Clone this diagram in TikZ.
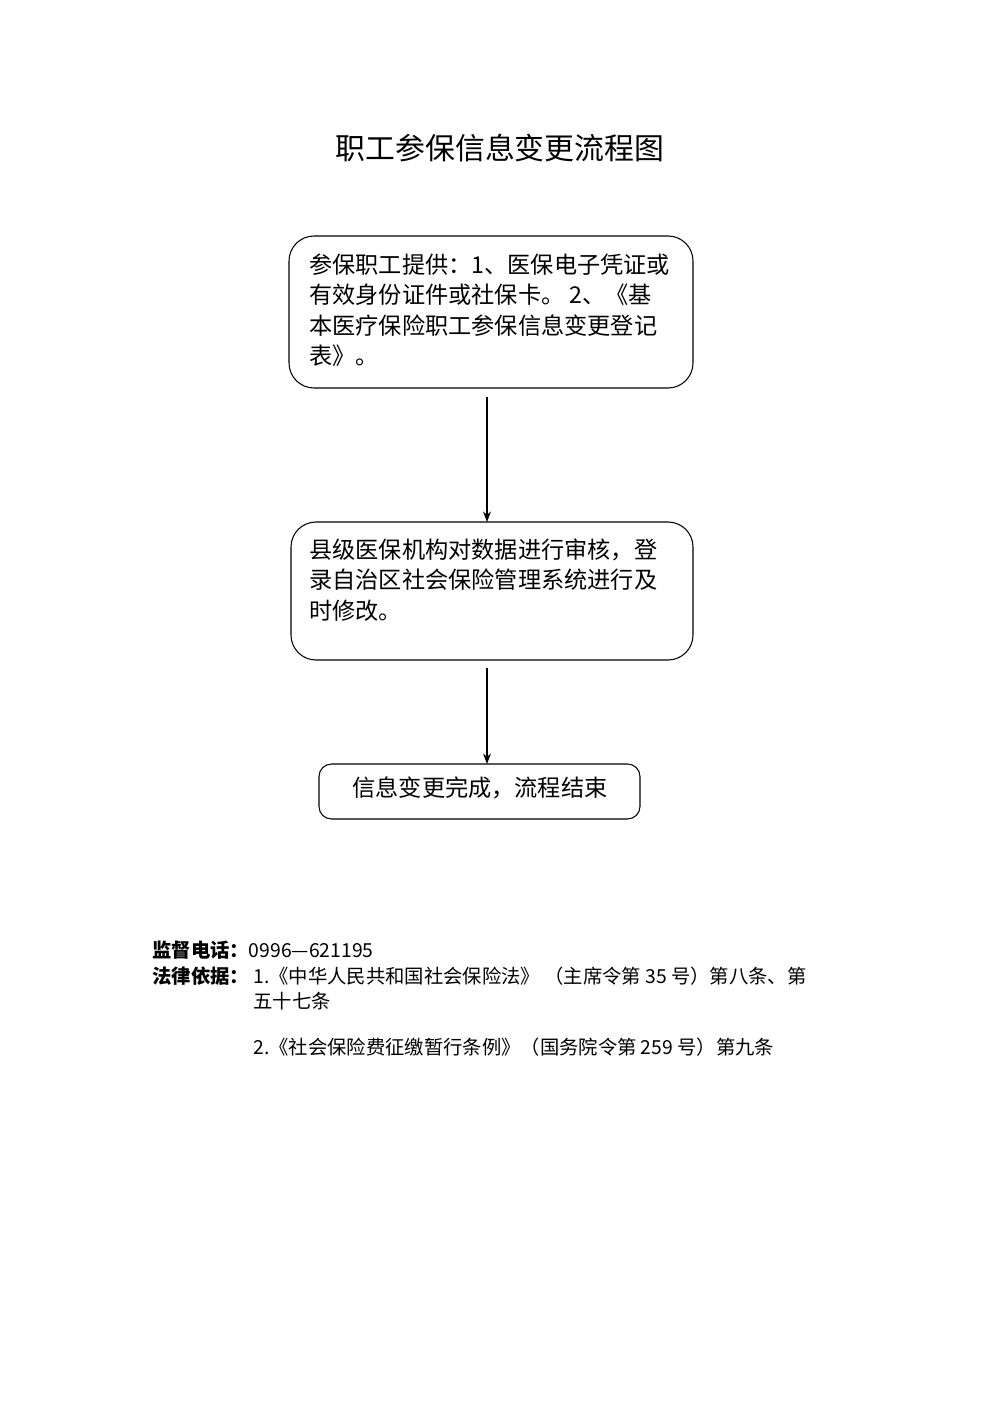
\documentclass[tikz,border=0pt]{standalone}
\usepackage{fontspec}
\setmainfont{Noto Sans CJK SC}
\usetikzlibrary{arrows.meta}
\tikzset{
  stepbox/.style={draw,rounded corners=0.5cm,line width=0.6pt},
  boxtext/.style={anchor=west,inner sep=0pt,font=\fontsize{13.2pt}{15pt}\selectfont},
  notetext/.style={anchor=west,inner sep=0pt,font=\fontsize{11pt}{12pt}\selectfont},
  flow/.style={-{Stealth[length=6pt]},line width=0.6pt}
}
\begin{document}
\begin{tikzpicture}[x=0.02cm,y=-0.02cm]
  \useasboundingbox (0,0) rectangle (1000,1415);
  \node[font=\fontsize{17pt}{20pt}\selectfont] (title) at (500,148) {职工参保信息变更流程图};

  \draw[stepbox] (289,236) rectangle (693,388);
  \coordinate (A1) at (487,397);
  \coordinate (A2) at (487,522);
  \node[boxtext] (t11) at (309,265) {参保职工提供：1、医保电子凭证或};
  \node[boxtext] (t12) at (309,295) {有效身份证件或社保卡。 2、《基};
  \node[boxtext] (t13) at (309,326) {本医疗保险职工参保信息变更登记};
  \node[boxtext] (t14) at (309,356) {表》。};

  \draw[stepbox] (291,522) rectangle (693,660);
  \coordinate (B1) at (487,668);
  \coordinate (B2) at (487,764);
  \node[boxtext] (t21) at (309,550) {县级医保机构对数据进行审核，登};
  \node[boxtext] (t22) at (309,580) {录自治区社会保险管理系统进行及};
  \node[boxtext] (t23) at (309,611) {时修改。};

  \draw[stepbox,rounded corners=0.25cm] (319,764) rectangle (640,819);
  \node[boxtext,anchor=center] (t31) at (480,788) {信息变更完成，流程结束};

  \draw[flow] (A1) -- (A2);
  \draw[flow] (B1) -- (B2);

  % notes
  \node[notetext] (n1) at (152,950) {\textbf{监督电话：}0996—621195};
  \node[notetext] (n2) at (152,976) {\textbf{法律依据：}};
  \node[notetext] (n3) at (253,976) {1.《中华人民共和国社会保险法》 （主席令第 35 号）第八条、第};
  \node[notetext] (n4) at (253,1001) {五十七条};
  \node[notetext] (n5) at (253,1047) {2.《社会保险费征缴暂行条例》（国务院令第 259 号）第九条};
\end{tikzpicture}
\end{document}
